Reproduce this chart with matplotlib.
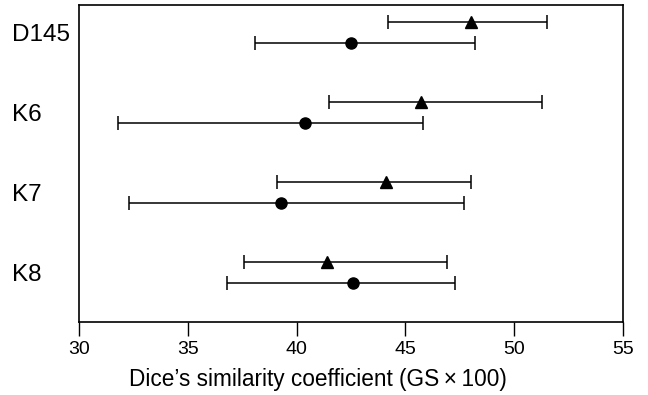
import matplotlib
matplotlib.use("Agg")
import matplotlib.pyplot as plt
import numpy as np

plt.rcParams['font.family'] = ['Liberation Sans', 'DejaVu Sans']

categories = ["D145", "K6", "K7", "K8"]
tri_mean = [48.0, 45.7, 44.1, 41.4]
tri_low = [44.2, 41.5, 39.1, 37.6]
tri_high = [51.5, 51.3, 48.0, 46.9]
circ_mean = [42.5, 40.4, 39.3, 42.6]
circ_low = [38.1, 31.8, 32.3, 36.8]
circ_high = [48.2, 45.8, 47.7, 47.3]
xticks = [30, 35, 40, 45, 50, 55]

fig = plt.figure(figsize=(6.48, 3.95), dpi=100)
ax = fig.add_axes([79/648, 1 - 322/395, (623-79)/648, (322-5)/395])

n = len(categories)
ypos = np.arange(n)[::-1].astype(float)  # D145 top
off = 0.13

tm = np.array(tri_mean); cm = np.array(circ_mean)
ax.errorbar(tm, ypos + off, xerr=[tm - np.array(tri_low), np.array(tri_high) - tm],
            fmt='^', color='black', ms=8, capsize=5, elinewidth=1.1, capthick=1.1)
ax.errorbar(cm, ypos - off, xerr=[cm - np.array(circ_low), np.array(circ_high) - cm],
            fmt='o', color='black', ms=8, capsize=5, elinewidth=1.1, capthick=1.1)

ax.set_xlim(30, 55)
ax.set_ylim(-0.62, 3.34)
ax.set_xticks(xticks)
ax.set_xticklabels([str(t) for t in xticks], fontsize=14)
ax.set_yticks(ypos)
ax.set_yticklabels(categories, fontsize=17.5, ha='left')
ax.tick_params(axis='y', length=0, pad=48)
ax.tick_params(axis='x', direction='out', length=10, width=1, pad=4)
for s in ax.spines.values():
    s.set_linewidth(1.2)
ax.set_xlabel("Dice\u2019s similarity coefficient (GS\u2009\u00d7\u2009100)", fontsize=16.3)
ax.xaxis.set_label_coords(0.44, -0.145)

fig.savefig("out.png", dpi=100)
